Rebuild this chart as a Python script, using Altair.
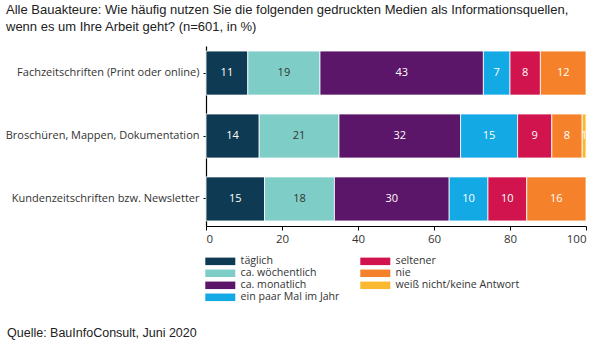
import altair as alt
import pandas as pd

# ---- data ----
media = [
    "Fachzeitschriften (Print oder online)",
    "Broschüren, Mappen, Dokumentation",
    "Kundenzeitschriften bzw. Newsletter",
]
categories = [
    "täglich",
    "ca. wöchentlich",
    "ca. monatlich",
    "ein paar Mal im Jahr",
    "seltener",
    "nie",
    "weiß nicht/keine Antwort",
]
colors = ["#0e3b53", "#7fcdc7", "#5b1569", "#12a9e5", "#d1144d", "#f5822a", "#fbb931"]
values_fach = [11, 19, 43, 7, 8, 12, 0]
values_brosch = [14, 21, 32, 15, 9, 8, 1]
values_kunden = [15.4, 18.4, 30.2, 10.2, 10.2, 15.6, 0]
x_ticks = [0, 20, 40, 60, 80, 100]

title_lines = [
    "Alle Bauakteure: Wie häufig nutzen Sie die folgenden gedruckten Medien als Informationsquellen,",
    "wenn es um Ihre Arbeit geht? (n=601, in %)",
]
source_text = "Quelle: BauInfoConsult, Juni 2020"

rows = []
for m, vals in zip(media, [values_fach, values_brosch, values_kunden]):
    for i, (c, v) in enumerate(zip(categories, vals)):
        rows.append({"media": m, "cat": c, "idx": i, "value": v})
df = pd.DataFrame(rows)

FONT = "Open Sans"

base = (
    alt.Chart(df)
    .transform_filter("datum.value > 0")
    .transform_stack(
        stack="value",
        as_=["x0", "x1"],
        groupby=["media"],
        sort=[alt.SortField("idx", order="ascending")],
    )
    .transform_calculate(
        mid="(datum.x0 + datum.x1) / 2",
        label="format(datum.value, '.0f')",
    )
)

y_enc = alt.Y(
    "media:N",
    sort=media,
    title=None,
    scale=alt.Scale(paddingInner=0.3, paddingOuter=0.08),
    axis=alt.Axis(
        labelFont=FONT,
        labelFontSize=11,
        labelColor="#333333",
        labelLimit=260,
        labelPadding=4,
        tickSize=3,
        tickColor="#000000",
        domainColor="#000000",
        domainWidth=1.2,
    ),
)

bars = base.mark_bar(stroke="white", strokeWidth=0.8).encode(
    y=y_enc,
    x=alt.X(
        "x0:Q",
        scale=alt.Scale(domain=[0, 100], nice=False),
        axis=alt.Axis(
            values=x_ticks,
            title=None,
            grid=False,
            labelFont=FONT,
            labelFontSize=11.5,
            labelColor="#333333",
            tickSize=4,
            tickColor="#000000",
            domainColor="#000000",
            domainWidth=1.2,
            labelPadding=3,
        ),
    ),
    x2="x1:Q",
    color=alt.Color(
        "cat:N",
        scale=alt.Scale(domain=categories, range=colors),
        legend=alt.Legend(
            title=None,
            orient="none",
            legendX=-1,
            legendY=210,
            columns=2,
            columnPadding=20,
            rowPadding=1,
            symbolType="M-1,-0.75H5V0.75H-1Z",
            symbolSize=100,
            symbolStrokeWidth=0,
            symbolOpacity=1,
            labelFont=FONT,
            labelFontSize=10.6,
            labelColor="#333333",
            labelOffset=25,
        ),
    ),
)

texts = base.mark_text(font=FONT, fontSize=11).encode(
    y=alt.Y("media:N", sort=media),
    x=alt.X("mid:Q"),
    text="label:N",
    color=alt.condition(
        alt.datum.cat == "ca. wöchentlich", alt.value("#333333"), alt.value("white")
    ),
)

source = (
    alt.Chart(pd.DataFrame({"t": [source_text]}))
    .mark_text(
        font="Liberation Sans", fontSize=12.5, align="left", baseline="middle", color="#222222"
    )
    .encode(text="t:N", x=alt.value(-199), y=alt.value(287))
)

chart = (
    alt.layer(bars, texts, source)
    .properties(
        width=380,
        height=180,
        autosize=alt.AutoSizeParams(type="none"),
        padding={"left": 206, "top": 46, "right": 14, "bottom": 124},
        title=alt.TitleParams(
            text=title_lines,
            anchor="start",
            frame="group",
            font="Liberation Sans",
            fontSize=13,
            fontWeight="normal",
            color="#222222",
            lineHeight=17,
            dx=-200,
            offset=12,
        ),
    )
    .configure_view(stroke=None)
)

chart.save("out.html", embed_options={"renderer": "svg", "actions": False})
